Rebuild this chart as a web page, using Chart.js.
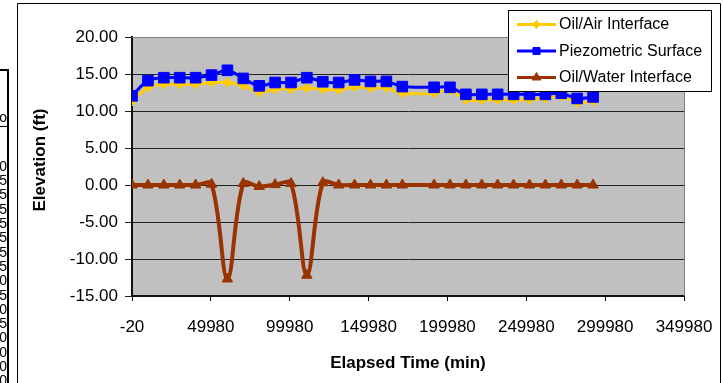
<!DOCTYPE html>
<html>
<head>
<meta charset="utf-8">
<script src="https://cdn.jsdelivr.net/npm/chart.js@4.4.0/dist/chart.umd.min.js"></script>
<style>
  html, body { margin: 0; padding: 0; background: #fff; }
  #wrap { position: relative; width: 723px; height: 383px; }
</style>
</head>
<body>
<div id="wrap"><canvas id="c" width="723" height="383"></canvas></div>
<script>
// elapsed time (min) of each reading
const elapsedMin = [0, 10080, 20160, 30240, 40320, 50400, 60480, 70560, 80640, 90720,
  100800, 110880, 120960, 131040, 141120, 151200, 161280, 171360, 191520, 201600,
  211680, 221760, 231840, 241920, 252000, 262080, 272160, 282240, 292320];

// elevations (ft)
const oilAir = [11.3, 13.2, 13.6, 13.6, 13.6, 13.85, 13.85, 13.45, 12.5, 12.95,
  12.95, 13.1, 12.95, 12.85, 13.25, 13.1, 13.1, 12.4, 12.4, 12.8,
  11.5, 11.5, 11.5, 11.5, 11.55, 11.7, 12.0, 11.1, 11.35];
const piezometric = [12.05, 14.1, 14.5, 14.5, 14.5, 14.85, 15.5, 14.4, 13.4, 13.85,
  13.85, 14.5, 13.95, 13.85, 14.2, 14.0, 14.0, 13.3, 13.2, 13.2,
  12.25, 12.25, 12.25, 12.25, 12.25, 12.25, 12.4, 11.7, 11.9];
const oilWater = [0, 0, 0, 0, 0, 0.1, -12.7, 0.2, -0.2, 0.05,
  0.2, -12.2, 0.3, 0, 0, 0, 0, 0, 0, 0,
  0, 0, 0, 0, 0, 0, 0, 0, 0];

const xTicks = [-20, 49980, 99980, 149980, 199980, 249980, 299980, 349980];
const yTicks = [-15, -10, -5, 0, 5, 10, 15, 20];

// clipped table column at the far left of the sheet
const tableHeadTail = 'o';
const tableDigits = ['0', '5', '5', '5', '5', '5', '5', '5', '0', '5', '0', '5', '0', '0', '0', '0'];

const FONT = '"Liberation Sans", Arial, sans-serif';
const YELLOW = '#ffcc00', BLUE = '#0000ff', BROWN = '#993300';

function series(label, values, color, style, radius, width, order) {
  return {
    label, order,
    data: elapsedMin.map((t, i) => ({ x: t, y: values[i] })),
    borderColor: color, backgroundColor: color, borderWidth: width,
    pointStyle: style, pointRadius: radius, pointHoverRadius: radius,
    pointBackgroundColor: color, pointBorderColor: color, pointBorderWidth: 1,
    tension: 0.35, fill: false,
  };
}

const datasets = [
  series('Oil/Air Interface', oilAir, YELLOW, 'rectRot', 4.5, 3, 2),
  series('Piezometric Surface', piezometric, BLUE, 'rect', 7.5, 3, 1),
  series('Oil/Water Interface', oilWater, BROWN, 'triangle', 6, 4, 0),
];

function marker(ctx, style, r, x, y, color) {
  ctx.fillStyle = color; ctx.strokeStyle = color; ctx.lineWidth = 1;
  if (Chart.helpers && Chart.helpers.drawPoint) {
    Chart.helpers.drawPoint(ctx, { pointStyle: style, radius: r, rotation: 0, borderWidth: 1 }, x, y);
  }
}

const decor = {
  id: 'decor',
  beforeDraw(chart) {
    const { ctx, chartArea: a } = chart;
    ctx.save();
    ctx.fillStyle = '#fff'; ctx.fillRect(0, 0, chart.width, chart.height);
    ctx.fillStyle = '#c0c0c0'; ctx.fillRect(a.left, a.top, a.right - a.left, a.bottom - a.top);
    ctx.restore();
  },
  afterDraw(chart) {
    const { ctx, chartArea: a } = chart;
    ctx.save();
    // plot area border (top / right)
    ctx.strokeStyle = '#808080'; ctx.lineWidth = 1;
    ctx.beginPath();
    ctx.moveTo(a.left, Math.round(a.top) + 0.5); ctx.lineTo(Math.round(a.right) + 0.5, Math.round(a.top) + 0.5);
    ctx.lineTo(Math.round(a.right) + 0.5, a.bottom);
    ctx.stroke();

    // outer chart frame
    ctx.strokeStyle = '#000';
    ctx.beginPath();
    ctx.moveTo(17.5, 383); ctx.lineTo(17.5, 3.5); ctx.lineTo(720.5, 3.5); ctx.lineTo(720.5, 383);
    ctx.stroke();

    // sheet cells peeking in from the left
    ctx.lineWidth = 2;
    ctx.beginPath();
    ctx.moveTo(0, 70); ctx.lineTo(9, 70);
    ctx.moveTo(8, 69); ctx.lineTo(8, 383);
    ctx.stroke();
    ctx.lineWidth = 1;
    ctx.beginPath(); ctx.moveTo(0, 126.5); ctx.lineTo(8, 126.5); ctx.stroke();
    ctx.fillStyle = '#000';
    ctx.font = '14px ' + FONT; ctx.textAlign = 'right'; ctx.textBaseline = 'middle';
    ctx.fillText(tableHeadTail, 7, 118);
    tableDigits.forEach((d, i) => ctx.fillText(d, 7, 167 + i * 14.3));

    // y axis title
    ctx.save();
    ctx.translate(40, 160); ctx.rotate(-Math.PI / 2);
    ctx.font = 'bold 17px ' + FONT; ctx.textAlign = 'center'; ctx.textBaseline = 'middle';
    ctx.fillText('Elevation (ft)', 0, 0);
    ctx.restore();

    // legend box
    const lx = 508, ly = 10, lw = 203, lh = 81;
    ctx.fillStyle = '#fff'; ctx.fillRect(lx, ly, lw, lh);
    ctx.strokeStyle = '#000'; ctx.lineWidth = 1;
    ctx.strokeRect(lx + 0.5, ly + 0.5, lw, lh);
    const rows = [24.5, 51, 77.5];
    datasets.forEach((ds, i) => {
      const y = rows[i];
      ctx.strokeStyle = ds.borderColor; ctx.lineWidth = 3;
      ctx.beginPath(); ctx.moveTo(517, y); ctx.lineTo(556, y); ctx.stroke();
      const r = ds.pointStyle === 'rect' ? 5 : ds.pointStyle === 'triangle' ? 5 : 4;
      marker(ctx, ds.pointStyle, r, 536.5, y, ds.borderColor);
      ctx.fillStyle = '#000';
      ctx.font = '16px ' + FONT; ctx.textAlign = 'left'; ctx.textBaseline = 'middle';
      ctx.fillText(ds.label, 559, y + 0.5);
    });
    ctx.restore();
  },
};

new Chart(document.getElementById('c'), {
  type: 'line',
  data: { datasets },
  options: {
    responsive: false, animation: false,
    layout: { padding: { left: 17, right: 39, top: 37, bottom: 0 } },
    plugins: { legend: { display: false }, tooltip: { enabled: false } },
    scales: {
      x: {
        type: 'linear', min: -20, max: 349980,
        afterBuildTicks: s => { s.ticks = xTicks.map(v => ({ value: v })); },
        afterFit: s => { s.height = 87; s.paddingLeft = 0; s.paddingRight = 0; },
        ticks: { font: { family: FONT, size: 17 }, color: '#000', padding: 16, maxRotation: 0,
                 callback: v => String(v) },
        grid: { drawOnChartArea: false, color: '#000', tickLength: 5 },
        border: { color: '#111', width: 2 },
        title: { display: true, text: 'Elapsed Time (min)', color: '#000',
                 font: { family: FONT, size: 17, weight: 'bold' }, padding: { top: 0, bottom: 9 } },
      },
      y: {
        min: -15, max: 20,
        afterBuildTicks: s => { s.ticks = yTicks.map(v => ({ value: v })); },
        afterFit: s => { s.width = 115; s.paddingTop = 0; s.paddingBottom = 0; },
        ticks: { font: { family: FONT, size: 17 }, color: '#000', padding: 7,
                 callback: v => v.toFixed(2) },
        grid: { color: '#222', lineWidth: 1, tickLength: 7 },
        border: { color: '#111', width: 2 },
      },
    },
  },
  plugins: [decor],
});
</script>
</body>
</html>
